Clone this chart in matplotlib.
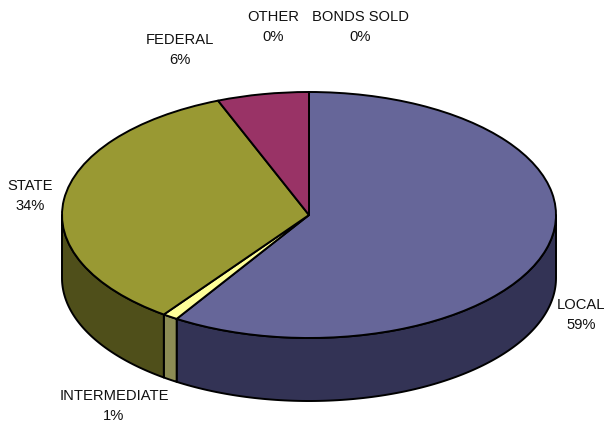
import numpy as np
import matplotlib
matplotlib.use('Agg')
import matplotlib.pyplot as plt
from matplotlib.patches import Wedge, Polygon

labels = ['LOCAL', 'INTERMEDIATE', 'STATE', 'FEDERAL', 'OTHER', 'BONDS SOLD']
shares = [59, 1, 34, 6, 0, 0]
top_colors = ['#666699', '#FFFF99', '#999933', '#993366', '#666699', '#FFFF99']
side_colors = ['#333355', '#8C8C54', '#4F4F1A', '#4F1A35', '#333355', '#8C8C54']

label_pos = [(581, 315), (114, 406), (30, 196), (180, 50), (273, 27), (360, 27)]

W, H = 608, 426
CX, CY = 309, 215
RX, RY = 247, 123
DEPTH = 63 / RY
EDGE = 1.4

plt.rcParams['font.family'] = ['Liberation Sans', 'DejaVu Sans']

fig = plt.figure(figsize=(W / 100, H / 100), dpi=100)
ax = fig.add_axes([0, 0, 1, 1])
# one data unit is the pie radius, so a circle in data space shows as the ellipse
ax.set_xlim(-CX / RX, (W - CX) / RX)
ax.set_ylim(-(H - CY) / RY, CY / RY)
ax.axis('off')

# pie runs clockwise from 12 o'clock
bounds = 90 - np.cumsum([0] + shares) * 3.6


def side_face(a1, a2, color):
    # only the front half of the rim is visible
    lo, hi = max(a1, -180), min(a2, 0)
    if lo >= hi:
        return
    t = np.radians(np.linspace(lo, hi, 120))
    x, y = np.cos(t), np.sin(t)
    pts = np.r_[np.c_[x, y], np.c_[x, y - DEPTH][::-1]]
    ax.add_patch(Polygon(pts, closed=True, fc=color, ec='black', lw=EDGE,
                         joinstyle='round', zorder=2))


for i in range(len(shares)):
    if shares[i] == 0:
        continue
    a2, a1 = bounds[i], bounds[i + 1]
    side_face(a1, a2, side_colors[i])
    # also cover the same rim one turn round
    side_face(a1 + 360, a2 + 360, side_colors[i])
    side_face(a1 - 360, a2 - 360, side_colors[i])

for i in range(len(shares)):
    if shares[i] == 0:
        continue
    ax.add_patch(Wedge((0, 0), 1, bounds[i + 1], bounds[i], fc=top_colors[i],
                       ec='black', lw=EDGE, joinstyle='round', zorder=3))

for name, share, (px, py) in zip(labels, shares, label_pos):
    ax.text((px - CX) / RX, (CY - py) / RY, f'{name}\n{share}%', ha='center', va='center',
            fontsize=10.6, color='#111111', linespacing=1.58)

fig.savefig('out.png', dpi=100)
